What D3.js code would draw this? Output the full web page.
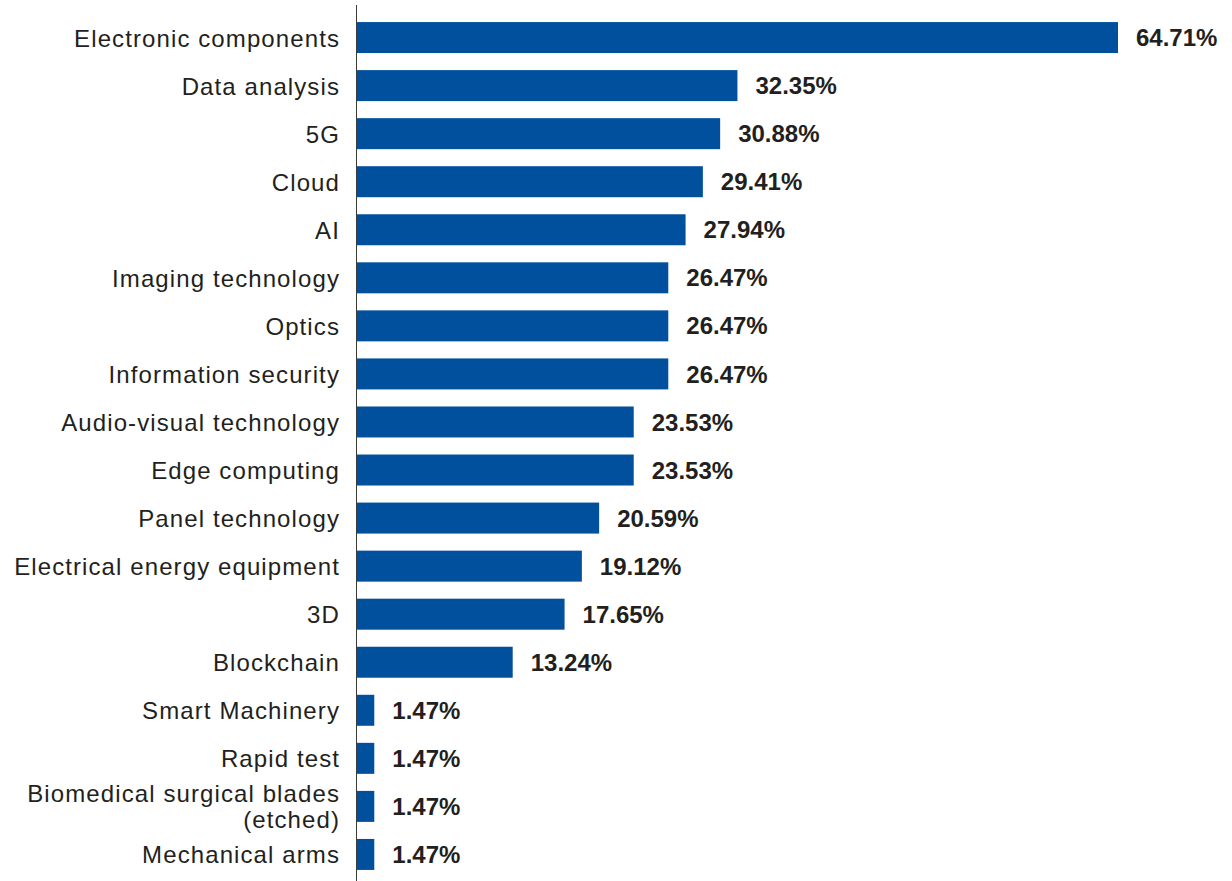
<!DOCTYPE html>
<html>
<head>
<meta charset="utf-8">
<script src="https://cdn.jsdelivr.net/npm/d3@7"></script>
<style>
  html, body { margin: 0; padding: 0; background: #ffffff; }
  svg { display: block; }
</style>
</head>
<body>
<svg id="chart" width="1232" height="881"></svg>
<script>
// Technology categories (top to bottom); "\n" marks a line break in the label
const categories = [
  "Electronic components",
  "Data analysis",
  "5G",
  "Cloud",
  "AI",
  "Imaging technology",
  "Optics",
  "Information security",
  "Audio-visual technology",
  "Edge computing",
  "Panel technology",
  "Electrical energy equipment",
  "3D",
  "Blockchain",
  "Smart Machinery",
  "Rapid test",
  "Biomedical surgical blades\n(etched)",
  "Mechanical arms"
];

// Share of respondents, in percent
const values = [
  64.71, 32.35, 30.88, 29.41, 27.94, 26.47, 26.47, 26.47, 23.53,
  23.53, 20.59, 19.12, 17.65, 13.24, 1.47, 1.47, 1.47, 1.47
];

// Value labels as printed next to each bar
const valueLabels = values.map(v => v.toFixed(2) + "%");

const rows = categories.map((c, i) => ({ category: c, value: values[i], label: valueLabels[i] }));

const svg = d3.select("#chart");
const width = 1232, height = 881;
const axisX = 356.5;
const barColor = "#00509d";
const textColor = "#231f20";

const x = d3.scaleLinear()
  .domain([0, d3.max(values)])
  .range([357, 1118]);

const y = d3.scaleBand()
  .domain(categories)
  .range([5, 887])
  .paddingInner(0.355)
  .paddingOuter(0.355);

// Bars
svg.append("g")
  .selectAll("rect")
  .data(rows)
  .join("rect")
    .attr("x", x(0))
    .attr("y", d => y(d.category))
    .attr("width", d => x(d.value) - x(0))
    .attr("height", y.bandwidth())
    .attr("fill", barColor);

// Vertical baseline
svg.append("line")
  .attr("x1", axisX).attr("x2", axisX)
  .attr("y1", 5).attr("y2", height)
  .attr("stroke", "#3a3a3a")
  .attr("stroke-width", 1);

// Category labels, right-aligned against the baseline
const lineHeight = 26;
const catLabels = svg.append("g")
  .attr("font-family", "'Liberation Sans', Arial, Helvetica, sans-serif")
  .attr("font-size", 24)
  .attr("letter-spacing", "1.1px")
  .attr("fill", textColor)
  .attr("text-anchor", "end");

catLabels.selectAll("text")
  .data(rows)
  .join("text")
    .each(function(d) {
      const lines = d.category.split("\n");
      const cy = y(d.category) + y.bandwidth() / 2;
      const first = cy + 9 - (lines.length - 1) * lineHeight / 2;
      d3.select(this).selectAll("tspan")
        .data(lines)
        .join("tspan")
          .attr("x", 340)
          .attr("y", (l, i) => first + i * lineHeight)
          .text(l => l);
    });

// Value labels at the end of each bar
svg.append("g")
  .attr("font-family", "'Liberation Sans', Arial, Helvetica, sans-serif")
  .attr("font-size", 24)
  .attr("font-weight", "bold")
  .attr("fill", textColor)
  .selectAll("text")
  .data(rows)
  .join("text")
    .attr("x", d => x(d.value) + 18)
    .attr("y", d => y(d.category) + y.bandwidth() / 2 + 8.6)
    .text(d => d.label);
</script>
</body>
</html>
